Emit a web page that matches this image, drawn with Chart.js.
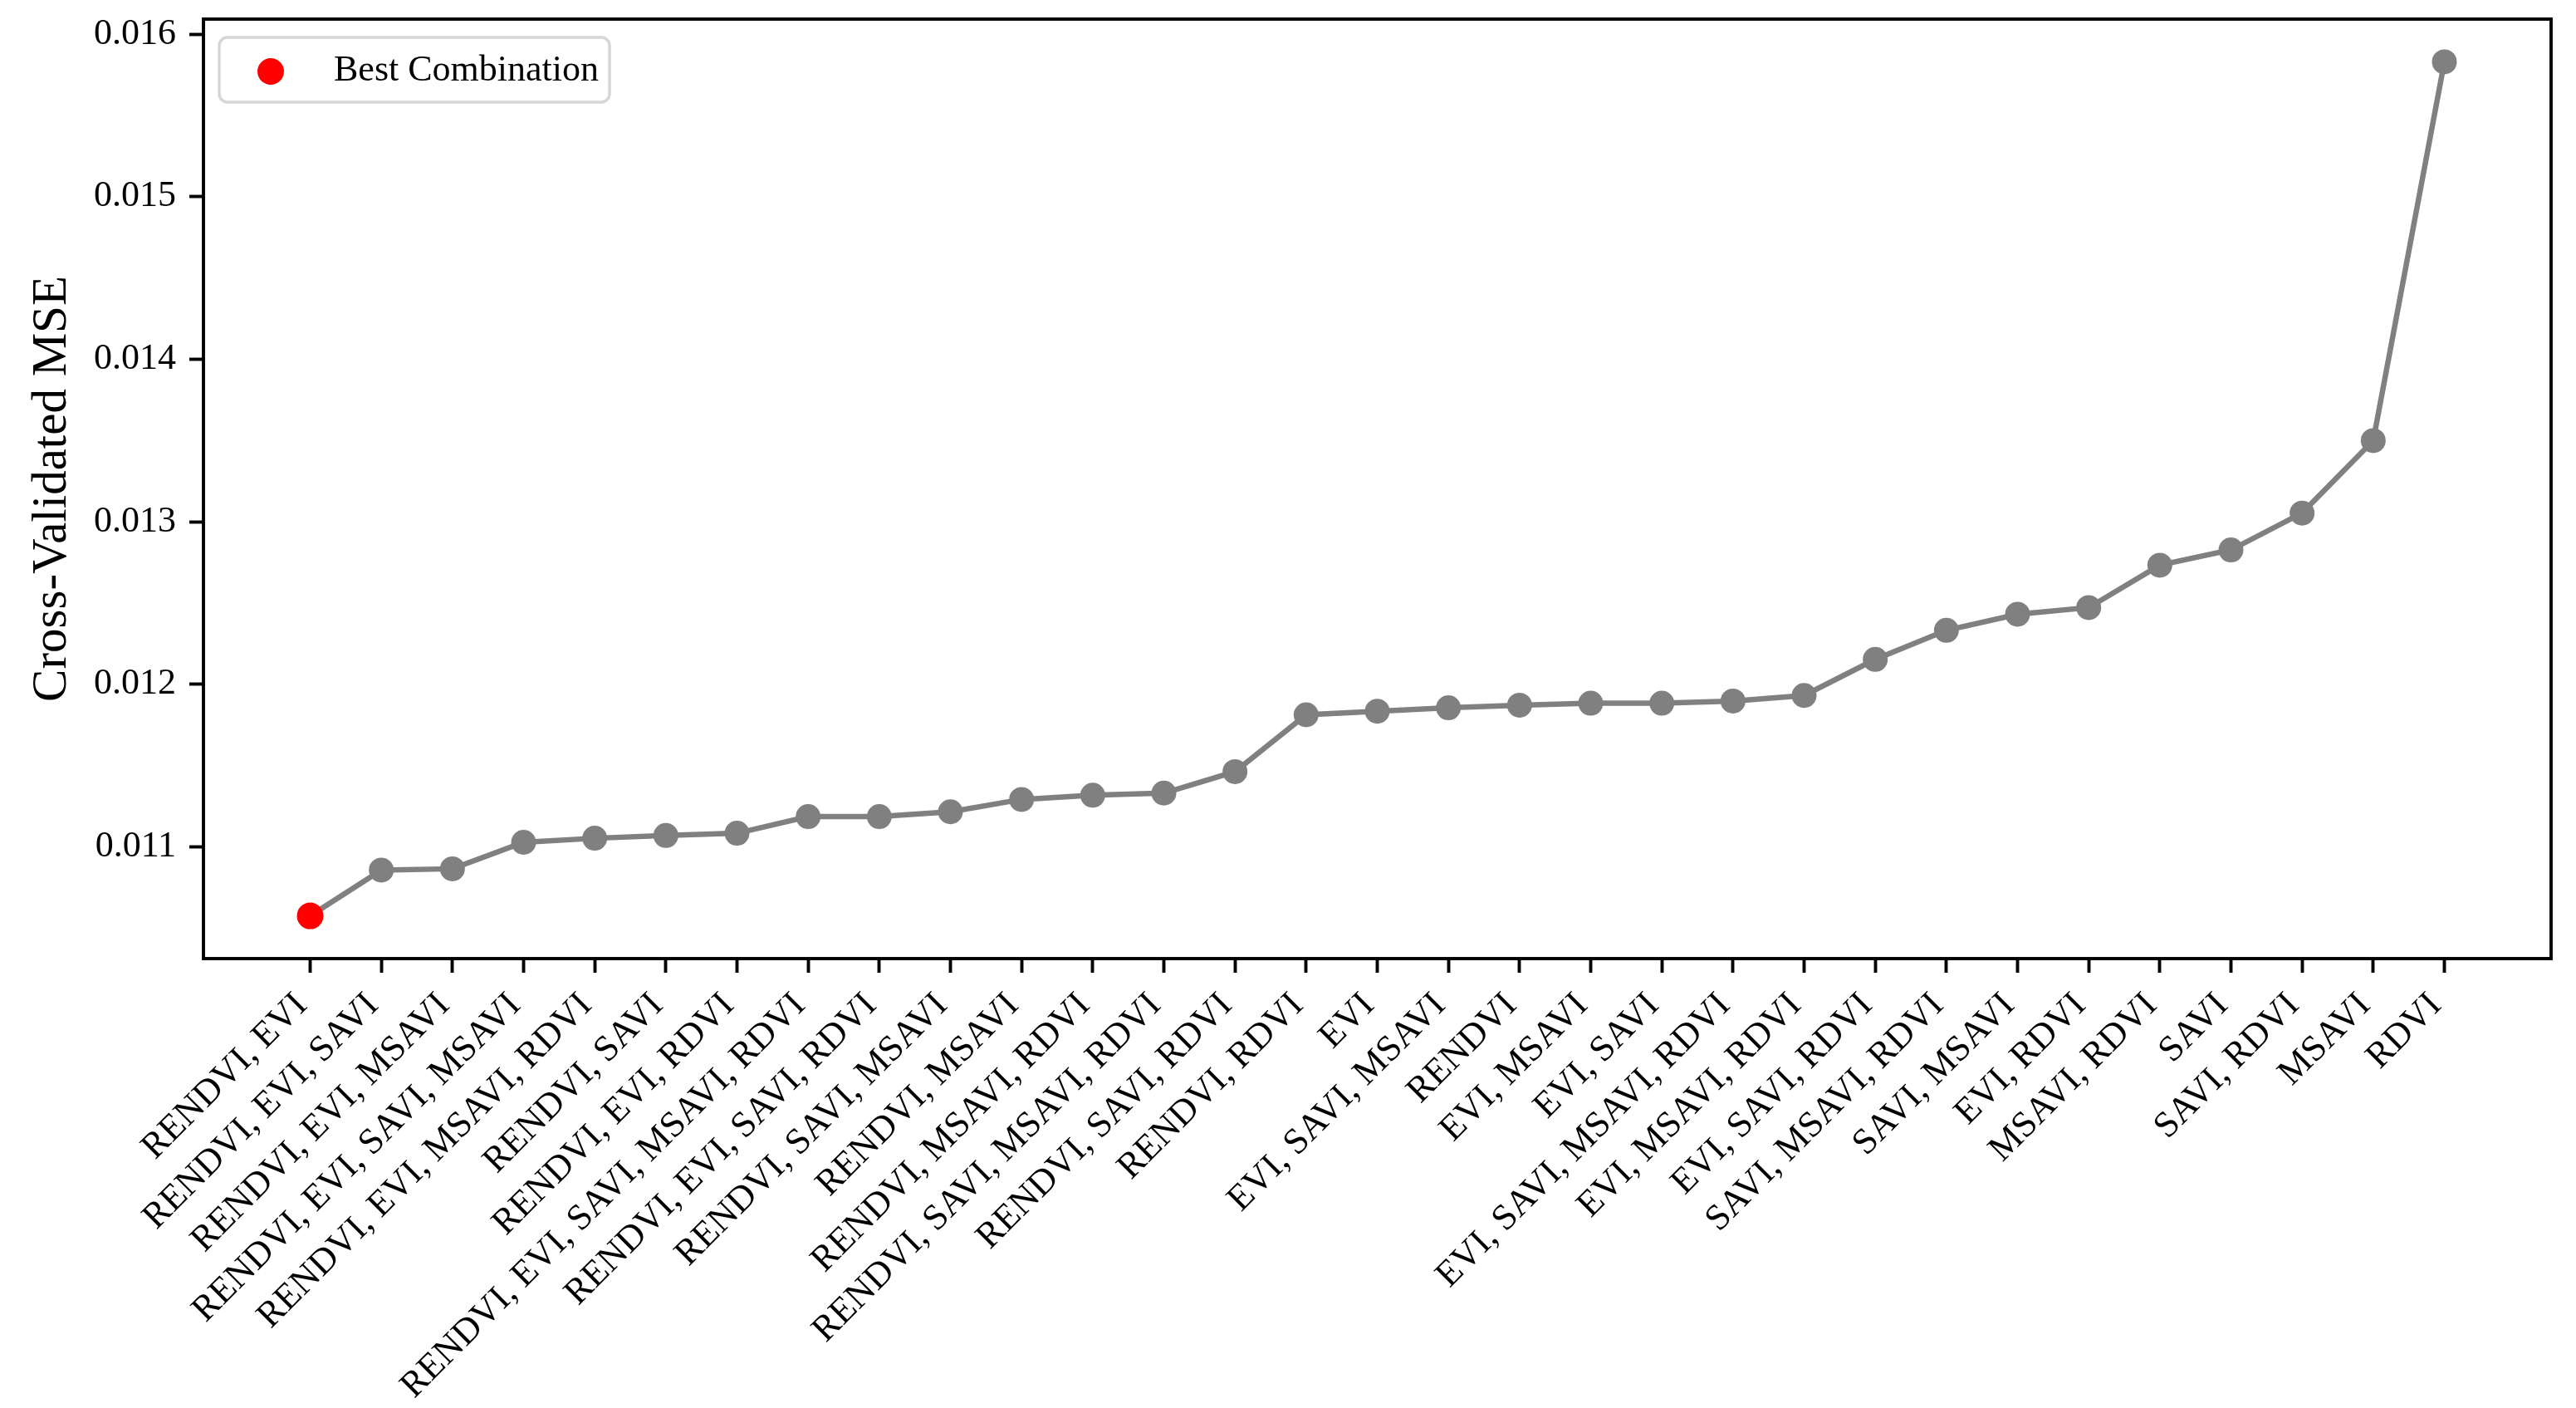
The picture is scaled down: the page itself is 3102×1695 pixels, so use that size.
<!DOCTYPE html>
<html><head><meta charset="utf-8">
<script src="https://cdn.jsdelivr.net/npm/chart.js@4.4.0/dist/chart.umd.min.js"></script>
<style>html,body{margin:0;padding:0;background:#fff;}#wrap{width:3102px;height:1695px;}</style>
</head><body><div id="wrap"><canvas id="c" width="3102" height="1695"></canvas></div>
<script>
const combinations = [
  'RENDVI, EVI', 'RENDVI, EVI, SAVI', 'RENDVI, EVI, MSAVI', 'RENDVI, EVI, SAVI, MSAVI',
  'RENDVI, EVI, MSAVI, RDVI', 'RENDVI, SAVI', 'RENDVI, EVI, RDVI', 'RENDVI, EVI, SAVI, MSAVI, RDVI',
  'RENDVI, EVI, SAVI, RDVI', 'RENDVI, SAVI, MSAVI', 'RENDVI, MSAVI', 'RENDVI, MSAVI, RDVI',
  'RENDVI, SAVI, MSAVI, RDVI', 'RENDVI, SAVI, RDVI', 'RENDVI, RDVI', 'EVI',
  'EVI, SAVI, MSAVI', 'RENDVI', 'EVI, MSAVI', 'EVI, SAVI',
  'EVI, SAVI, MSAVI, RDVI', 'EVI, MSAVI, RDVI', 'EVI, SAVI, RDVI', 'SAVI, MSAVI, RDVI',
  'SAVI, MSAVI', 'EVI, RDVI', 'MSAVI, RDVI', 'SAVI', 'SAVI, RDVI', 'MSAVI', 'RDVI'
];
const mseValues = [
  0.010573, 0.010855, 0.010863, 0.011026, 0.011051, 0.011068, 0.011082, 0.011184,
  0.011184, 0.011214, 0.011290, 0.011316, 0.011329, 0.011461, 0.011811, 0.011833,
  0.011854, 0.011870, 0.011882, 0.011882, 0.011896, 0.011930, 0.012152, 0.012331,
  0.012430, 0.012471, 0.012732, 0.012826, 0.013053, 0.013499, 0.015831
];
const bestIndex = 0;
const yTickValues = [0.011, 0.012, 0.013, 0.014, 0.015, 0.016];
const yTickLabels = ['0.011', '0.012', '0.013', '0.014', '0.015', '0.016'];
const legendLabel = 'Best Combination';
const yAxisTitle = 'Cross-Validated MSE';

const FONT = "'Liberation Serif', 'Times New Roman', serif";
const TICK_SIZE = 44;
const minV = Math.min(...mseValues), maxV = Math.max(...mseValues);
const yPad = (maxV - minV) * 0.05;
const n = combinations.length;

const framePlugin = {
  id: 'frame',
  afterDraw(chart) {
    const {ctx, chartArea: a} = chart;
    ctx.save();
    // legend
    const ds = chart.data.datasets[0];
    const lx = a.left + 19, ly = a.top + 22, lw = 470, lh = 78, r = 10;
    ctx.beginPath();
    ctx.moveTo(lx + r, ly);
    ctx.arcTo(lx + lw, ly, lx + lw, ly + lh, r);
    ctx.arcTo(lx + lw, ly + lh, lx, ly + lh, r);
    ctx.arcTo(lx, ly + lh, lx, ly, r);
    ctx.arcTo(lx, ly, lx + lw, ly, r);
    ctx.closePath();
    ctx.fillStyle = 'rgba(255,255,255,0.8)';
    ctx.fill();
    ctx.lineWidth = 3.5;
    ctx.strokeStyle = '#d6d6d6';
    ctx.stroke();
    ctx.beginPath();
    ctx.arc(lx + 62, ly + 41, 16, 0, Math.PI * 2);
    ctx.fillStyle = ds.backgroundColor;
    ctx.fill();
    ctx.fillStyle = '#000';
    ctx.font = TICK_SIZE + 'px ' + FONT;
    ctx.textBaseline = 'alphabetic';
    ctx.textAlign = 'left';
    ctx.fillText(ds.label, lx + 138, ly + 52);
    // spines
    ctx.lineWidth = 3.9;
    ctx.strokeStyle = '#000';
    ctx.strokeRect(a.left, a.top, a.right - a.left, a.bottom - a.top);
    ctx.restore();
  }
};

new Chart(document.getElementById('c'), {
  type: 'line',
  data: {
    datasets: [
      {
        label: legendLabel,
        data: [{x: bestIndex, y: mseValues[bestIndex]}],
        showLine: false,
        pointRadius: 16,
        pointBorderWidth: 0,
        backgroundColor: '#ff0000',
        borderColor: '#ff0000',
        order: 0
      },
      {
        label: 'MSE',
        data: mseValues.map((v, i) => ({x: i, y: v})),
        borderColor: '#808080',
        backgroundColor: '#808080',
        pointBackgroundColor: '#808080',
        pointRadius: 15,
        pointBorderWidth: 0,
        borderWidth: 6.5,
        tension: 0,
        order: 1
      }
    ]
  },
  options: {
    responsive: false,
    devicePixelRatio: 1,
    animation: false,
    layout: {padding: {top: 23, right: 30, left: 0, bottom: 0}},
    plugins: {legend: {display: false}, tooltip: {enabled: false}},
    scales: {
      x: {
        type: 'linear',
        min: -(n - 1) * 0.05,
        max: (n - 1) * 1.05,
        afterBuildTicks: s => { s.ticks = combinations.map((_, i) => ({value: i})); },
        afterFit: s => { s.height = 541; s.paddingLeft = 0; s.paddingRight = 0; },
        border: {display: false},
        grid: {display: true, drawOnChartArea: false, drawTicks: true, tickLength: 17, tickWidth: 3.9, tickColor: '#000'},
        ticks: {
          autoSkip: false, maxRotation: 45, minRotation: 45,
          padding: 14, labelOffset: -10,
          color: '#000', font: {family: FONT, size: TICK_SIZE},
          callback: v => combinations[Math.round(v)]
        }
      },
      y: {
        type: 'linear',
        min: minV - yPad,
        max: maxV + yPad,
        afterBuildTicks: s => { s.ticks = yTickValues.map(v => ({value: v})); },
        afterFit: s => { s.width = 245; s.paddingTop = 0; s.paddingBottom = 0; },
        border: {display: false},
        grid: {display: true, drawOnChartArea: false, drawTicks: true, tickLength: 17, tickWidth: 3.9, tickColor: '#000'},
        title: {display: true, text: yAxisTitle, color: '#000', font: {family: FONT, size: 59}, padding: {top: 28, bottom: 0}},
        ticks: {
          padding: 16, color: '#000', font: {family: FONT, size: TICK_SIZE},
          callback: v => { const k = yTickValues.findIndex(t => Math.abs(t - v) < 1e-9); return k >= 0 ? yTickLabels[k] : ''; }
        }
      }
    }
  },
  plugins: [framePlugin]
});
</script></body></html>
